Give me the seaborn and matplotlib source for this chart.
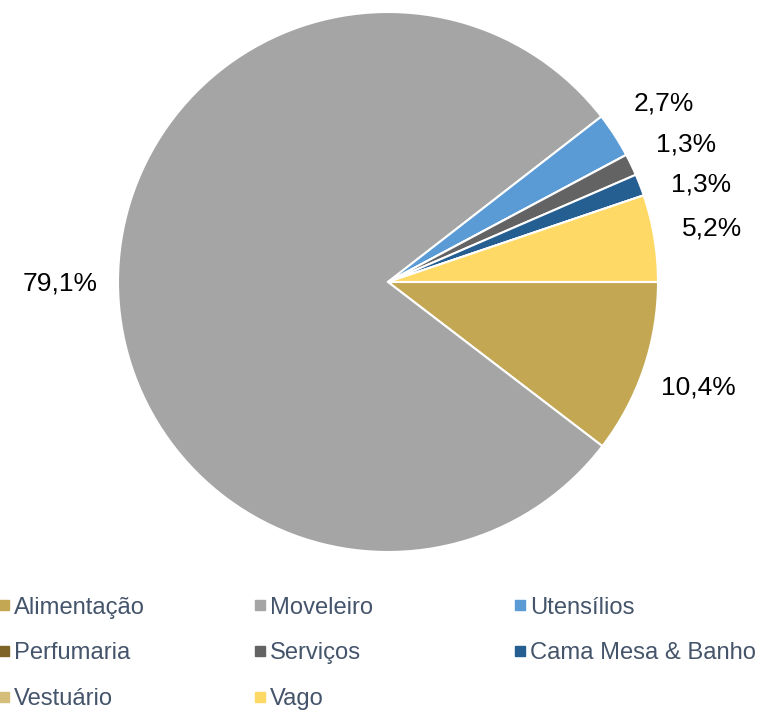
import numpy as np
import matplotlib
matplotlib.use("Agg")
import matplotlib.pyplot as plt
from matplotlib.lines import Line2D
import seaborn as sns

categories = ["Alimentação", "Moveleiro", "Utensílios", "Perfumaria",
              "Serviços", "Cama Mesa & Banho", "Vestuário", "Vago"]
values = [10.4, 79.1, 2.7, 0.0, 1.3, 1.3, 0.0, 5.2]
colors = ["#C3A753", "#A5A5A5", "#5B9BD5", "#7F6427",
          "#636363", "#255E91", "#D4BE7A", "#FFD966"]

sns.set_theme(style="white")
plt.rcParams["font.family"] = ["Liberation Sans", "DejaVu Sans"]
palette = sns.color_palette(colors)

fig = plt.figure(figsize=(7.64, 7.10), dpi=100)
ax = fig.add_axes([118/764, (710-552)/710, 540/764, 540/710])

wedges, _ = ax.pie(values, colors=palette, startangle=0, counterclock=False,
                   radius=1.0, wedgeprops=dict(edgecolor="white", linewidth=1.5))
ax.set_xlim(-1, 1)
ax.set_ylim(-1, 1)
ax.set_aspect("equal")
ax.axis("off")

# data labels outside the pie, spread vertically so they do not collide
r = 1.215
min_gap = 0.15
items = []
for w, v in zip(wedges, values):
    if v <= 0:
        continue
    theta = np.deg2rad((w.theta1 + w.theta2) / 2)
    items.append([r*np.cos(theta), r*np.sin(theta), v])
right = sorted([it for it in items if it[0] > 0], key=lambda it: -it[1])
for prev, cur in zip(right, right[1:]):
    if prev[1] - cur[1] < min_gap:
        cur[1] = prev[1] - min_gap
        cur[0] = np.sqrt(max(r**2 - cur[1]**2, 0))
for x, y, v in items:
    ax.text(x, y, f"{v:.1f}%".replace(".", ","),
            ha="center", va="center", fontsize=19, color="black", clip_on=False)

# legend: three fixed-width columns, filled row-wise
ncol = 3
col_x = [-0.0135, 0.3215, 0.662]
for c in range(ncol):
    idx = list(range(c, len(categories), ncol))
    handles = [Line2D([], [], marker="s", linestyle="none", markersize=7,
                      markerfacecolor=colors[i], markeredgecolor=colors[i]) for i in idx]
    labels = [categories[i] for i in idx]
    leg = fig.legend(handles, labels, ncol=1, loc="upper left",
                     bbox_to_anchor=(col_x[c], 0.173), frameon=False, fontsize=17.1,
                     handlelength=0.4, handletextpad=0.22,
                     labelspacing=1.0, borderaxespad=0)
    for t in leg.get_texts():
        t.set_color("#44546A")

fig.savefig("out.png", dpi=100)
